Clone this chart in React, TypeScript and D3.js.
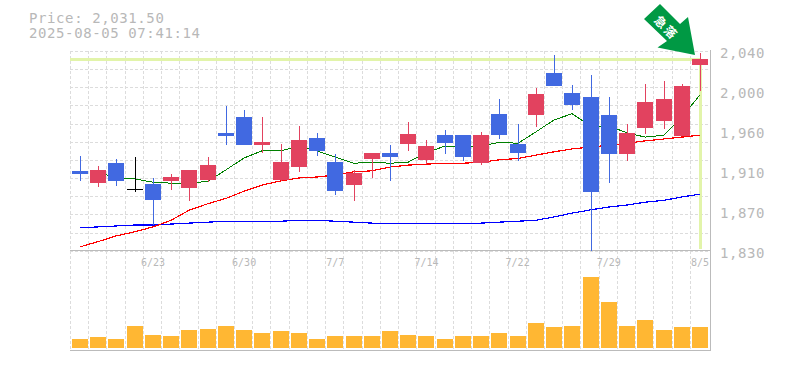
import React from "react";
import * as d3 from "d3";

const priceTitle = "Price: 2,031.50";
const stampTitle = "2025-08-05 07:41:14";
const opens = [1914,1901,1922,1895,1900,1903,1896,1904,1954,1970.5,1941,1904,1918,1948.5,1923,1899,1926.5,1933,1942,1925.5,1952,1952,1922,1974,1942,1973,2017,1996,1991.5,1973,1932,1959,1966.5,1950.5,2025];
const highs = [1930,1919,1926,1928.5,1906.5,1911,1915,1928.5,1982,1978,1970.5,1942,1961,1954,1932,1915,1933,1941,1965,1946.5,1957,1952,1955,1989.5,1963,2001,2036,2004,2015,1991.5,1963,2005,2008.5,2005,2038];
const lows = [1903,1897,1898,1892,1857,1894,1882,1902,1941,1941,1933,1903,1913,1929.5,1888.5,1882,1906.5,1903,1935,1921,1932,1924,1920,1947.5,1924,1960,2003,1978,1830,1901,1924,1953,1958,1950.5,1998];
const closes = [1911,1915,1903,1895,1883,1907.5,1915,1920,1950.5,1941,1944,1923,1946.5,1935,1893,1912,1933,1928.5,1953,1940,1943,1928.5,1952,1952,1933,1995,2003,1983,1892,1932,1954,1986.5,1989.5,2003,2031.5];
const volumes = [9,11,9,22,13,12,18,19,22,18,15,17,15,9,12,12,12,17,13,12,9,12,12,15,12,25,21,22,71,46,22,28,18,21,21];
const maShort: (number | null)[] = [null,1913,1906.5,1905.5,1902,1901,1901,1903,1915,1927.5,1935,1935,1940,1935,1928.5,1922,1923,1922,1923,1933,1940,1940,1940,1944,1943,1955,1967.5,1974,1961,1961,1954,1949.5,1951.5,1970.5,1994];
const maMid = [1834,1839.5,1845.5,1850,1855,1862,1872.5,1879.5,1885,1892.5,1899,1903.5,1906.5,1907.5,1909.5,1913,1914,1918,1920,1921,1922,1922,1923,1925.5,1927,1930.5,1934,1937,1939,1941,1943,1945.5,1947.5,1949.5,1951.5];
const maLong = [1854,1855,1856,1857,1857,1858,1859,1860,1861,1861,1861,1861,1862,1862,1861,1860,1859,1859,1859,1859,1859,1859,1859,1860,1861,1862,1865.5,1869.5,1873,1876,1878,1881,1883,1886.5,1889.5];
const priceTicks = [2040,1998,1956,1914,1872,1830];
const priceTickLabels = ["2,040","2,000","1,960","1,910","1,870","1,830"];
const dateTickIndex = [4,9,14,19,24,29,34];
const dateTickLabels = ["6/23","6/30","7/7","7/14","7/22","7/29","8/5"];
const lastPrice = 2031.5;
const badgeText = "急落";

const W = 785, H = 370;
const idx = d3.range(opens.length);
const x = d3.scaleBand<number>().domain(idx).range([70.9, 709.1]);
const y = d3.scaleLinear().domain([1830, 2040]).range([250.7, 51]);
const v = d3.scaleLinear().domain([0, 100]).range([348, 248]);
const cx = (i: number) => x(i)! + x.bandwidth() / 2;
const RED = "#E2425F", BLUE = "#4169E1", BLACK = "#000", GRID = "#dcdcdc", AXIS = "#bbb", TXT = "#b8b8b8", VOL = "#FFB733", HL = "#E2F4AA";
const MONO = "'DejaVu Sans Mono', monospace";

const maPath = (vals: (number | null)[]) =>
  d3.line<number | null>().defined(d => d != null).x((_, i) => Math.round(cx(i))).y(d => y(d as number))(vals) || "";

export default function App() {
  const gridYs = d3.range(12).map(i => y(2040) + (i * (y(1830) - y(2040))) / 11);
  const gridXs = d3.range(35).map(i => Math.round(x.range()[0] + i * x.step()) - 0.5);
  const lastX = Math.round(cx(idx.length - 1));
  const hy = y(lastPrice);
  return (
    <svg width={W} height={H} style={{ position: "absolute", left: 0, top: 0, display: "block", background: "#fff" }}>
      <g fontFamily={MONO} fill={TXT}>
        <text x={29} y={23} fontSize={14} letterSpacing={0.6}>{priceTitle}</text>
        <text x={29} y={38} fontSize={14} letterSpacing={0.6}>{stampTitle}</text>
      </g>
      <g stroke={GRID} strokeWidth={1} strokeDasharray="3 2" shapeRendering="crispEdges">
        {gridYs.map((g, i) => <line key={i} x1={70} x2={710} y1={Math.round(g)+0.5} y2={Math.round(g)+0.5} />)}
        {gridXs.map((g, i) => <line key={i} x1={g} x2={g} y1={51} y2={350} />)}
      </g>
      <rect x={70} y={hy - 1.5} width={lastX - 70} height={3} fill={HL} shapeRendering="crispEdges" />
      <rect x={lastX - 1} y={hy} width={3} height={y(1830) - hy - 2} fill={HL} shapeRendering="crispEdges" />
      <g stroke={AXIS} strokeWidth={1} shapeRendering="crispEdges">
        <line x1={70} x2={711} y1={250.5} y2={250.5} />
        <line x1={70} x2={711} y1={350.5} y2={350.5} />
        <line x1={710.5} x2={710.5} y1={50} y2={351} />
      </g>
      <g fill="none" strokeWidth={1.2} shapeRendering="crispEdges">
        <path d={maPath(maLong)} stroke="#0000ff" />
        <path d={maPath(maMid)} stroke="#ff0000" />
        <path d={maPath(maShort)} stroke="#008000" strokeWidth={1} />
      </g>
      <g shapeRendering="crispEdges">
        {idx.map(i => {
          const up = closes[i] > opens[i], doji = closes[i] === opens[i];
          const col = doji ? BLACK : up ? RED : BLUE;
          const top = y(Math.max(opens[i], closes[i]));
          const bot = y(Math.min(opens[i], closes[i]));
          const c = Math.round(cx(i));
          return (
            <g key={i}>
              <rect x={c} y={y(highs[i])} width={1} height={y(lows[i]) - y(highs[i])} fill={col} />
              <rect x={c - 8} y={top} width={16} height={Math.max(bot - top, 1.5)} fill={col} />
            </g>
          );
        })}
        {volumes.map((d, i) => (
          <rect key={i} x={Math.round(cx(i)) - 8} y={v(d)} width={16} height={v(0) - v(d)} fill={VOL} />
        ))}
      </g>
      <g fontFamily={MONO} fill={TXT}>
        {priceTicks.map((t, i) => (
          <text key={t} x={720} y={y(t) + 7} fontSize={14} letterSpacing={0.6}>{priceTickLabels[i]}</text>
        ))}
        {dateTickIndex.map((k, i) => (
          <text key={k} x={cx(k)} y={265.5} fontSize={10} textAnchor="middle">{dateTickLabels[i]}</text>
        ))}
      </g>
      <polygon points="660,4 644,19 667,41 657.5,47.5 695,55 688,17 680,24" fill="#009944" />
      <text transform="translate(667,27) rotate(45)" textAnchor="middle" dominantBaseline="central"
        fontSize={12} fontWeight={700} letterSpacing={2} fontFamily="'Noto Sans CJK JP'" fill="#fff">{badgeText}</text>
    </svg>
  );
}
